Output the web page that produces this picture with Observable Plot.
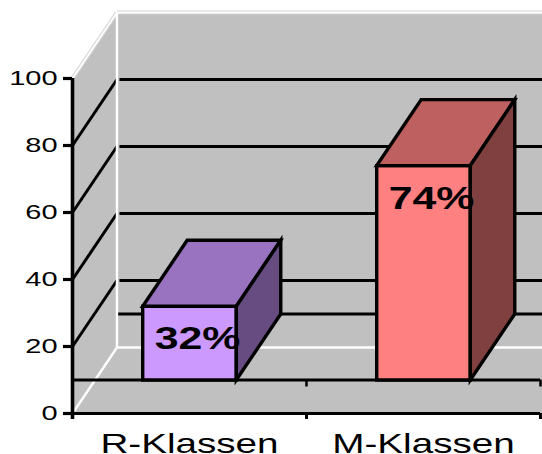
<!DOCTYPE html>
<html>
<head>
<meta charset="utf-8">
<script src="https://cdn.jsdelivr.net/npm/d3@7"></script>
<script src="https://cdn.jsdelivr.net/npm/@observablehq/plot@0.6"></script>
<style>
  html, body { margin: 0; padding: 0; background: #fff; }
  #chart { width: 542px; height: 454px; overflow: hidden; }
</style>
</head>
<body>
<div id="chart"></div>
<script>
// Share per class type, in percent
const categories = ["R-Klassen", "M-Klassen"];
const shares = [32, 74];
const yTicks = [0, 20, 40, 60, 80, 100];

// 3D box geometry, in scale units
const depthX = 0.19;    // shift of the back plane, in category widths
const depthY = 19.7;    // shift of the back plane, in value units
const floorTop = 10;    // bars stand on a floor slab of this height
const barOffset = 0.3;  // gap from the category start to the bar
const barWidth = 0.4;
const nCat = categories.length;
const yMax = yTicks[yTicks.length - 1];
const farX = nCat + depthX + 0.5;

const palette = {
  wall: "#C0C0C0",
  front: ["#CC99FF", "#FF8080"],
  top: ["#9973BF", "#BF6060"],
  side: ["#664C80", "#804040"]
};

const toPoints = (pts) => pts.map(([x, y]) => ({x, y}));
function face(pts, options) {
  return Plot.line(toPoints(pts), {x: "x", y: "y", curve: "linear-closed", ...options});
}

// walls and floor
const sideWall = [[0, 0], [0, yMax], [depthX, yMax + depthY], [depthX, depthY]];
const backWall = [[depthX, depthY], [depthX, yMax + depthY], [farX, yMax + depthY], [farX, depthY]];
const floor = [[0, 0], [depthX, depthY], [farX, depthY], [nCat + 0.5, 0]];
const wallStyle = {fill: palette.wall, stroke: palette.wall, strokeWidth: 1};

const inner = yTicks.filter((v) => v > 0 && v < yMax);

// light edges of the box
const outerEdges = [
  {x1: 0, y1: yMax, x2: depthX, y2: yMax + depthY},
  {x1: depthX, y1: yMax + depthY, x2: farX, y2: yMax + depthY}
];
const innerEdges = [
  {x1: depthX, y1: depthY, x2: depthX, y2: yMax + depthY},
  {x1: depthX, y1: depthY, x2: farX, y2: depthY},
  {x1: 0, y1: 0, x2: depthX, y2: depthY}
];

// bar faces
const barMarks = [];
shares.forEach((v, i) => {
  const a = i + barOffset, b = i + barOffset + barWidth;
  const edge = {stroke: "black", strokeWidth: 3.4, strokeLinejoin: "miter", strokeMiterlimit: 4};
  barMarks.push(face([[a, floorTop], [b, floorTop], [b, v], [a, v]], {fill: palette.front[i], ...edge}));
  barMarks.push(face([[a, v], [b, v], [b + depthX, v + depthY], [a + depthX, v + depthY]], {fill: palette.top[i], ...edge}));
  barMarks.push(face([[b, floorTop], [b, v], [b + depthX, v + depthY], [b + depthX, floorTop + depthY]], {fill: palette.side[i], ...edge}));
});

const chart = Plot.plot({
  width: 542,
  height: 454,
  marginLeft: 72,
  marginRight: 2,
  marginTop: 78,
  marginBottom: 41,
  x: {domain: [0, nCat], axis: null},
  y: {domain: [0, yMax], axis: null},
  style: {fontFamily: "'Liberation Sans', Arial, sans-serif", background: "#fff", color: "black"},
  marks: [
    face(backWall, wallStyle),
    face(sideWall, wallStyle),
    face(floor, wallStyle),

    // grid: diagonals on the side wall, horizontals on the back wall
    Plot.link(inner, {x1: 0, y1: (d) => d, x2: depthX, y2: (d) => d + depthY, stroke: "black", strokeWidth: 3}),
    Plot.ruleY(inner, {y: (d) => d + depthY, x1: depthX, x2: farX, insetLeft: 3, stroke: "black", strokeWidth: 3}),
    Plot.ruleY([floorTop], {y: (d) => d + depthY, x1: depthX, x2: farX, insetLeft: 1, stroke: "black", strokeWidth: 3}),

    // edges of the box
    Plot.link(outerEdges, {x1: "x1", y1: "y1", x2: "x2", y2: "y2", stroke: "#d2d2d2", strokeWidth: 4}),
    Plot.link(outerEdges, {x1: "x1", y1: "y1", x2: "x2", y2: "y2", stroke: "#fff", strokeWidth: 2}),
    Plot.link(innerEdges, {x1: "x1", y1: "y1", x2: "x2", y2: "y2", stroke: "#fff", strokeWidth: 2.4}),

    // top of the floor slab, with its ticks
    Plot.ruleY([floorTop], {x1: 0, x2: nCat, stroke: "black", strokeWidth: 3}),
    Plot.ruleX(d3.range(1, nCat + 1), {y1: floorTop, y2: floorTop, insetBottom: -7, stroke: "black", strokeWidth: 2.5}),

    ...barMarks,

    // value labels on the bars
    Plot.text(shares, {
      x: (d, i) => i + barOffset + barWidth / 2,
      y: (d) => d,
      text: (d) => `${d}%`,
      dx: 8, dy: 43,
      lineAnchor: "bottom",
      fontSize: 31,
      fontWeight: "bold",
      fill: "black"
    }),

    // category axis
    Plot.ruleY([0], {x1: 0, x2: nCat, stroke: "black", strokeWidth: 3.2}),
    Plot.ruleX(d3.range(1, nCat + 1), {y1: 0, y2: 0, insetBottom: -6, stroke: "black", strokeWidth: 3}),
    Plot.text(categories, {
      x: (d, i) => i + 0.5,
      y: 0,
      text: (d) => d,
      dy: 39,
      lineAnchor: "bottom",
      fontSize: 28,
      fill: "black"
    }),

    // value axis
    Plot.ruleX([0], {y1: yMax, y2: 0, insetBottom: -6, stroke: "black", strokeWidth: 3.6}),
    Plot.ruleY(yTicks, {x1: 0, x2: 0, insetLeft: -9, stroke: "black", strokeWidth: 3.2}),
    Plot.text(yTicks, {
      x: 0,
      y: (d) => d,
      text: (d) => String(d),
      textAnchor: "end",
      lineAnchor: "middle",
      dx: -15,
      fontSize: 21,
      fill: "black"
    })
  ]
});

// widen the lettering horizontally around each label's anchor
chart.querySelectorAll("text").forEach((t) => {
  const tr = t.getAttribute("transform") || "";
  t.setAttribute("transform", `${tr} scale(1.38,1)`);
});

document.getElementById("chart").appendChild(chart);
</script>
</body>
</html>
